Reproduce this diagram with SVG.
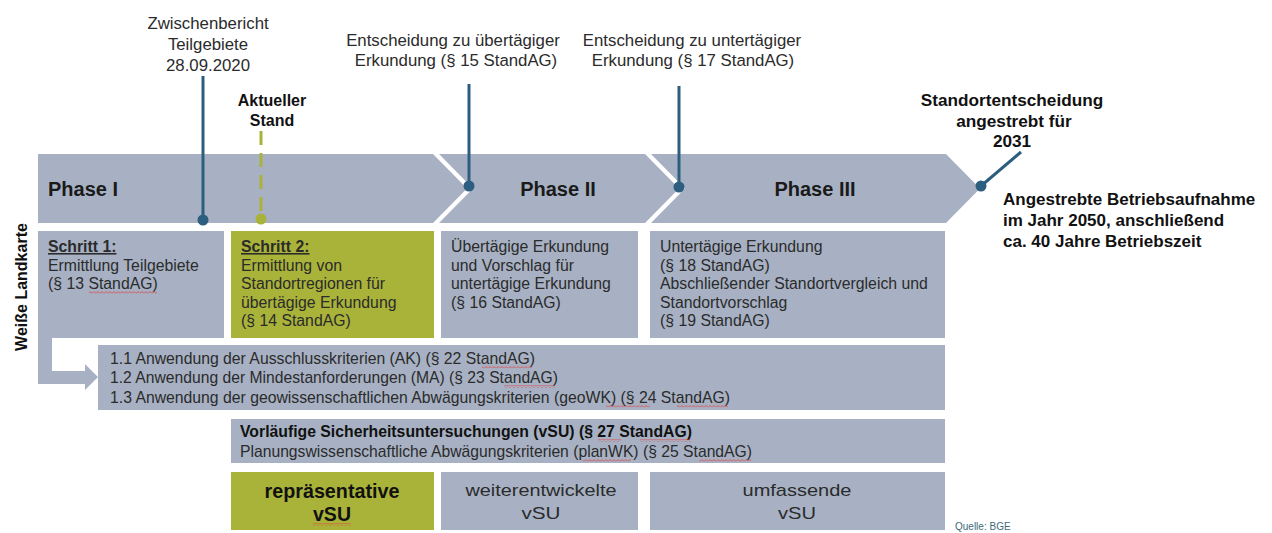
<svg xmlns="http://www.w3.org/2000/svg" width="1272" height="533" viewBox="0 0 1272 533">
<style>
.bg{fill:#a7b1c3}
.gr{fill:#a9b33a}
.t{font-family:"Liberation Sans",Arial,sans-serif;font-size:15.8px;fill:#2b2b2b}
.tt{font-family:"Liberation Sans",Arial,sans-serif;font-size:16.8px;fill:#2b2b2b}
.b{font-family:"Liberation Sans",Arial,sans-serif;font-weight:bold;fill:#111}
.n{font-family:"Liberation Sans Narrow","Liberation Sans",Arial,sans-serif;font-size:17px;fill:#2b2b2b}
.nb{font-family:"Liberation Sans Narrow","Liberation Sans",Arial,sans-serif;font-weight:bold;fill:#111}
.ph{font-family:"Liberation Sans",Arial,sans-serif;font-weight:bold;font-size:20px;fill:#1a1a1a}
.ln{stroke:#2d5e80;stroke-width:3;fill:none}
.dot{fill:#2d5e80}
.sq{fill:url(#sq)}
</style>
<defs>
<pattern id="sq" width="4" height="3" patternUnits="userSpaceOnUse">
<path d="M0,2.5 L2,0.5 L4,2.5" stroke="#e23b3b" stroke-width="0.8" fill="none"/>
</pattern>
</defs>

<g id="phase-band">
<polygon id="phase1" class="bg" points="38,154 433,154 467,188.5 433,223 38,223"/>
<polygon id="phase2" class="bg" points="439,154 645,154 679,188.5 645,223 439,223 473,188.5"/>
<polygon id="phase3" class="bg" points="651,154 946,154 980,188.5 946,223 651,223 685,188.5"/>
<text class="ph" x="48" y="196">Phase I</text>
<text class="ph" x="558" y="196" text-anchor="middle">Phase II</text>
<text class="ph" x="815" y="196" text-anchor="middle">Phase III</text>
</g>

<g id="side-label">
<text class="b" font-size="16" text-anchor="middle" transform="translate(27,287) rotate(-90)">Weiße Landkarte</text>
</g>

<g id="schritt1">
<rect class="bg" x="38" y="231" width="186" height="107"/>
<text class="t" x="48" y="252" font-weight="bold" fill="#111" text-decoration="underline">Schritt 1:</text>
<text class="t" x="48" y="270.5">Ermittlung Teilgebiete</text>
<text class="t" x="48" y="289">(§ 13 StandAG)</text>
<rect class="sq" x="89" y="291" width="68" height="3"/>
</g>

<g id="schritt2">
<rect class="gr" x="231" y="231" width="203" height="107"/>
<text class="t" x="241" y="252" font-weight="bold" fill="#111" text-decoration="underline">Schritt 2:</text>
<text class="t" x="241" y="270.5">Ermittlung von</text>
<text class="t" x="241" y="289">Standortregionen für</text>
<text class="t" x="241" y="307.5">übertägige Erkundung</text>
<text class="t" x="241" y="326">(§ 14 StandAG)</text>
</g>

<g id="phase2-box">
<rect class="bg" x="441" y="231" width="197" height="107"/>
<text class="t" x="451" y="252">Übertägige Erkundung</text>
<text class="t" x="451" y="270.5">und Vorschlag für</text>
<text class="t" x="451" y="289">untertägige Erkundung</text>
<text class="t" x="451" y="307.5">(§ 16 StandAG)</text>
</g>

<g id="phase3-box">
<rect class="bg" x="650" y="231" width="295" height="107"/>
<text class="t" x="660" y="252">Untertägige Erkundung</text>
<text class="t" x="660" y="270.5">(§ 18 StandAG)</text>
<text class="t" x="660" y="289">Abschließender Standortvergleich und</text>
<text class="t" x="660" y="307.5">Standortvorschlag</text>
<text class="t" x="660" y="326">(§ 19 StandAG)</text>
</g>

<g id="kriterien">
<rect class="bg" x="98" y="345" width="847" height="65"/>
<text class="n" x="110" y="363.5" textLength="425" lengthAdjust="spacingAndGlyphs">1.1 Anwendung der Ausschlusskriterien (AK) (§ 22 StandAG)</text>
<text class="n" x="110" y="383" textLength="448" lengthAdjust="spacingAndGlyphs">1.2 Anwendung der Mindestanforderungen (MA) (§ 23 StandAG)</text>
<text class="n" x="110" y="402.5" textLength="620" lengthAdjust="spacingAndGlyphs">1.3 Anwendung der geowissenschaftlichen Abwägungskriterien (geoWK) (§ 24 StandAG)</text>
<rect class="sq" x="482" y="365.5" width="50" height="3"/>
<rect class="sq" x="504" y="385" width="51" height="3"/>
<rect class="sq" x="606" y="404.5" width="44" height="3"/>
<rect class="sq" x="677" y="404.5" width="51" height="3"/>
</g>

<g id="vsu">
<rect class="bg" x="231" y="419" width="714" height="44"/>
<text class="nb" font-size="17" x="240" y="437" textLength="452" lengthAdjust="spacingAndGlyphs">Vorläufige Sicherheitsuntersuchungen (vSU) (§ 27 StandAG)</text>
<text class="n" x="240" y="457" textLength="512" lengthAdjust="spacingAndGlyphs">Planungswissenschaftliche Abwägungskriterien (planWK) (§ 25 StandAG)</text>
<rect class="sq" x="598" y="439" width="23" height="3"/>
<rect class="sq" x="640" y="439" width="51" height="3"/>
<rect class="sq" x="583" y="459" width="48" height="3"/>
<rect class="sq" x="699" y="459" width="52" height="3"/>
</g>

<g id="vsu-rep">
<rect class="gr" x="231" y="472" width="203" height="58"/>
<text class="nb" font-size="20.5" x="332" y="498" text-anchor="middle" textLength="135" lengthAdjust="spacingAndGlyphs">repräsentative</text>
<text class="nb" font-size="20.5" x="332" y="521" text-anchor="middle" textLength="38" lengthAdjust="spacingAndGlyphs">vSU</text>
<rect class="sq" x="313" y="523" width="38" height="3"/>
</g>

<g id="vsu-weiter">
<rect class="bg" x="441" y="472" width="197" height="58"/>
<text class="n" font-size="20.5" x="541" y="496" text-anchor="middle" textLength="151" lengthAdjust="spacingAndGlyphs">weiterentwickelte</text>
<text class="n" font-size="20.5" x="541" y="519" text-anchor="middle" textLength="39" lengthAdjust="spacingAndGlyphs">vSU</text>
</g>

<g id="vsu-umf">
<rect class="bg" x="650" y="472" width="295" height="58"/>
<text class="n" font-size="20.5" x="797" y="496" text-anchor="middle" textLength="109" lengthAdjust="spacingAndGlyphs">umfassende</text>
<text class="n" font-size="20.5" x="797" y="519" text-anchor="middle" textLength="38" lengthAdjust="spacingAndGlyphs">vSU</text>
</g>

<g id="milestone-zwischenbericht">
<text class="tt" x="208" y="29" text-anchor="middle">Zwischenbericht</text>
<text class="tt" x="208" y="50" text-anchor="middle">Teilgebiete</text>
<text class="tt" x="208" y="71" text-anchor="middle">28.09.2020</text>
</g>
<g id="milestone-aktuell">
<text class="b" font-size="16" x="272" y="106" text-anchor="middle">Aktueller</text>
<text class="b" font-size="16" x="272" y="126" text-anchor="middle">Stand</text>
</g>
<g id="milestone-uebertaegig">
<text class="tt" x="453" y="46" text-anchor="middle">Entscheidung zu übertägiger</text>
<text class="tt" x="456" y="66" text-anchor="middle">Erkundung (§ 15 StandAG)</text>
</g>
<g id="milestone-untertaegig">
<text class="tt" x="692" y="46" text-anchor="middle">Entscheidung zu untertägiger</text>
<text class="tt" x="693" y="66" text-anchor="middle">Erkundung (§ 17 StandAG)</text>
</g>
<g id="milestone-standort">
<text class="b" font-size="17.2" x="1012" y="106" text-anchor="middle">Standortentscheidung</text>
<text class="b" font-size="17.2" x="1014" y="127" text-anchor="middle">angestrebt für</text>
<text class="b" font-size="17.2" x="1012" y="147" text-anchor="middle">2031</text>
</g>
<g id="betrieb">
<text class="b" font-size="17" x="1003" y="205">Angestrebte Betriebsaufnahme</text>
<text class="b" font-size="17" x="1003" y="226">im Jahr 2050, anschließend</text>
<text class="b" font-size="17" x="1003" y="247">ca. 40 Jahre Betriebszeit</text>
</g>

<g id="connectors">
<path class="bg" d="M38,338 H52 V371 H85 V364 L98,377 L85,390 V384 H38 Z"/>
<line class="ln" x1="203" y1="76" x2="203" y2="220"/>
<circle class="dot" cx="203" cy="220" r="5.5"/>
<line x1="261" y1="131" x2="261" y2="216" stroke="#a9b33a" stroke-width="3" stroke-dasharray="14 8"/>
<circle cx="261" cy="219" r="5.5" fill="#a9b33a"/>
<line class="ln" x1="469" y1="84" x2="469" y2="186"/>
<circle class="dot" cx="469" cy="186" r="5.5"/>
<line class="ln" x1="679" y1="86" x2="679" y2="187"/>
<circle class="dot" cx="679" cy="187" r="5.5"/>
<line class="ln" x1="1021" y1="152" x2="981" y2="186"/>
<circle class="dot" cx="981" cy="186" r="5.5"/>
</g>

<text x="955" y="530" font-family="Liberation Sans,Arial,sans-serif" font-size="10" fill="#3d6a7a">Quelle: BGE</text>
</svg>
